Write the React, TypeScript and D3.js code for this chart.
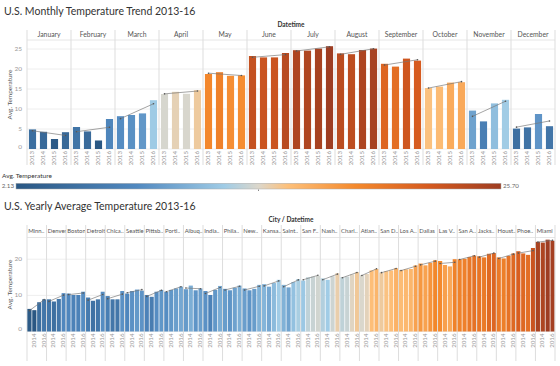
import React from 'react';
import * as d3 from 'd3';

// monthly averages, one array per year (Jan..Dec)
const MONTHS = ['January', 'February', 'March', 'April', 'May', 'June', 'July', 'August', 'September', 'October', 'November', 'December'];
const YEARS = ['2013', '2014', '2015', '2016'];
const M2013 = [4.9, 5.5, 8.2, 13.75, 18.75, 23.25, 24.7, 23.9, 21.3, 15.25, 9.6, 5.1];
const M2014 = [4.3, 4.4, 8.5, 14.3, 19.2, 22.9, 24.6, 23.7, 20.6, 15.6, 6.9, 5.4];
const M2015 = [2.5, 2.13, 8.9, 13.8, 18.3, 22.9, 25.1, 24.75, 22.6, 16.6, 11.4, 8.75];
const M2016 = [4.2, 7.5, 12.2, 14.7, 18.4, 24.0, 25.7, 25.1, 22.1, 16.7, 12.3, 5.7];

// yearly averages by city
const CITIES = ['Minn..', 'Denver', 'Boston', 'Detroit', 'Chica..', 'Seattle', 'Pittsb..', 'Portl..', 'Albuq..', 'India..', 'Phila..', 'New..', 'Kansa..', 'Saint..', 'San F..', 'Nash..', 'Charl..', 'Atlan..', 'San D..', 'Los A..', 'Dallas', 'Las V..', 'San A..', 'Jacks..', 'Houst..', 'Phoe..', 'Miami'];
const C2013 = [6.25, 8.9, 10.5, 9.4, 9.8, 10.5, 10.1, 11.0, 11.7, 11.2, 11.8, 11.9, 13.1, 12.9, 14.1, 14.7, 15.0, 15.6, 16.3, 17.0, 18.8, 19.5, 20.0, 20.8, 20.5, 22.2, 24.8];
const C2014 = [5.9, 8.3, 10.1, 8.5, 8.9, 11.2, 9.6, 11.5, 12.7, 10.1, 11.4, 11.4, 12.4, 12.2, 15.0, 14.3, 15.2, 15.9, 16.7, 17.2, 18.3, 18.4, 20.1, 20.5, 20.2, 21.6, 24.6];
const C2015 = [8.1, 9.0, 10.1, 8.9, 8.9, 11.6, 11.0, 11.9, 11.4, 11.5, 12.1, 11.8, 13.4, 13.7, 15.2, 15.3, 15.8, 16.9, 16.9, 17.3, 19.0, 18.0, 20.6, 21.5, 20.9, 21.2, 25.4];
const C2016 = [8.9, 10.6, 11.0, 11.0, 11.2, 11.3, 11.5, 12.4, 11.9, 12.6, 12.7, 12.9, 14.3, 14.5, 15.4, 16.1, 16.4, 17.3, 17.5, 18.3, 19.7, 20.0, 21.0, 21.7, 21.6, 23.1, 25.1];

const TOP_TICKS = [0, 5, 10, 15, 20, 25];
const BOTTOM_TICKS = [0, 10, 20];

// orange-blue diverging, blue = cold
const STOPS = [0, 0.25, 0.43, 0.5, 0.56, 0.7, 0.85, 1];
const STOP_COLORS = ['#2a5783', '#5189c0', '#a0cce6', '#dcd7cb', '#fdc07a', '#f4892c', '#d55a1f', '#9e3d22'];

const FONT = 'Lato, "Open Sans", sans-serif';
const LEFT = 27;
const RIGHT = 555;

function colorScale(min: number, max: number) {
  return d3.scaleLinear<string>()
    .domain(STOPS.map(t => min + t * (max - min)))
    .range(STOP_COLORS)
    .interpolate(d3.interpolateRgb);
}

// least squares trend over the 4 years of a pane
function trend(vals: number[]) {
  const n = vals.length;
  const xs = vals.map((_, i) => i);
  const mx = d3.mean(xs) as number;
  const my = d3.mean(vals) as number;
  let num = 0, den = 0;
  xs.forEach((x, i) => { num += (x - mx) * (vals[i] - my); den += (x - mx) * (x - mx); });
  const b = num / den;
  const a = my - b * mx;
  return [a, a + b * (n - 1)];
}

type PanelProps = {
  id: string;
  groups: string[];
  series: number[][]; // [year][group]
  y0: number; yMax: number; domainMax: number;
  headerTop: number; bottom: number;
  ticks: number[];
  headerAlign: 'middle' | 'start';
  yearLabels: string[];
  title: string; subTitle: string; titleY: number; subTitleY: number;
  barPad: number;
};

function Panel(p: PanelProps) {
  const gx = d3.scaleBand().domain(p.groups).range([LEFT, RIGHT]);
  const ix = d3.scaleBand().domain(YEARS).range([0, gx.bandwidth()]).paddingInner(p.barPad).paddingOuter(p.barPad / 2);
  const y = d3.scaleLinear().domain([0, p.domainMax]).range([p.y0, p.yMax]);
  const all = p.series.flat();
  const color = colorScale(d3.min(all) as number, d3.max(all) as number);
  const headerBottom = p.yMax;
  return (
    <g fontFamily={FONT}>
      <text x={4} y={p.titleY} fontSize={10.5} fill="#333">{p.title}</text>
      <text x={(LEFT + RIGHT) / 2} y={p.subTitleY} fontSize={6.5} fontWeight="bold" fill="#333" textAnchor="middle">{p.subTitle}</text>
      {p.ticks.map(t => (
        <g key={'t' + t}>
          <line x1={LEFT} x2={RIGHT} y1={y(t)} y2={y(t)} stroke="#eeeeee" strokeWidth={1} />
          <text x={22} y={t === 0 ? y(t) - 2 : y(t)} fontSize={6.5} fill="#999" textAnchor="end" dominantBaseline="middle">{t}</text>
        </g>
      ))}
      <line x1={LEFT} x2={RIGHT} y1={headerBottom} y2={headerBottom} stroke="#e6e6e6" />
      <text transform={`translate(10,${(p.y0 + headerBottom) / 2}) rotate(-90)`} fontSize={6.5} fill="#555" textAnchor="middle" dominantBaseline="middle">Avg. Temperature</text>
      {p.groups.map((g, gi) => {
        const x0 = gx(g) as number;
        const vals = p.series.map(s => s[gi]);
        const [ta, tb] = trend(vals);
        const cx0 = x0 + (ix(YEARS[0]) as number) + ix.bandwidth() / 2;
        const cx3 = x0 + (ix(YEARS[3]) as number) + ix.bandwidth() / 2;
        const clipId = `${p.id}-h${gi}`;
        return (
          <g key={g}>
            <clipPath id={clipId}><rect x={x0} y={p.headerTop} width={gx.bandwidth()} height={headerBottom - p.headerTop} /></clipPath>
            <line x1={x0} x2={x0} y1={p.headerTop} y2={p.bottom} stroke="#dddddd" />
            <text clipPath={`url(#${clipId})`} x={p.headerAlign === 'middle' ? x0 + gx.bandwidth() / 2 : x0 + 1.2} y={(p.headerTop + headerBottom) / 2 + 0.5}
              fontSize={p.headerAlign === 'middle' ? 6.8 : 5.9} fill="#555" textAnchor={p.headerAlign} dominantBaseline="middle">{g}</text>
            {vals.map((v, i) => (
              <rect key={i} x={x0 + (ix(YEARS[i]) as number)} width={ix.bandwidth()} y={y(v)} height={p.y0 - y(v)} fill={color(v)} />
            ))}
            {YEARS.map(yr => p.yearLabels.includes(yr) ? (
              <text key={'l' + yr} transform={`translate(${x0 + (ix(yr) as number) + ix.bandwidth() / 2},${p.y0 + 2}) rotate(-90)`}
                fontSize={6.2} fill="#999" textAnchor="end" dominantBaseline="middle">{yr}</text>
            ) : null)}
            <line x1={cx0} x2={cx3} y1={y(ta)} y2={y(tb)} stroke="#777" strokeOpacity={0.75} strokeWidth={0.9} />
            <circle cx={cx0} cy={y(ta)} r={0.8} fill="#555" />
            <circle cx={cx3} cy={y(tb)} r={0.8} fill="#555" />
          </g>
        );
      })}
      <line x1={RIGHT} x2={RIGHT} y1={p.headerTop} y2={p.bottom} stroke="#dddddd" />
    </g>
  );
}

function Legend() {
  const lx0 = 16, lx1 = 501;
  return (
    <g fontFamily={FONT}>
      <defs>
        <linearGradient id="tempGrad" x1="0" x2="1" y1="0" y2="0">
          {STOPS.map((s, i) => <stop key={i} offset={s} stopColor={STOP_COLORS[i]} />)}
        </linearGradient>
      </defs>
      <text x={2} y={176} fontSize={6.5} fill="#333" dominantBaseline="middle">Avg. Temperature</text>
      <text x={14} y={186.5} fontSize={6.2} fill="#666" textAnchor="end" dominantBaseline="middle">{d3.format('.2f')(d3.min(M2015) as number)}</text>
      <rect x={lx0} y={183.3} width={lx1 - lx0} height={5.7} fill="url(#tempGrad)" stroke="#aaa" strokeWidth={0.5} />
      <text x={503} y={186.5} fontSize={6.2} fill="#666" dominantBaseline="middle">{d3.format('.2f')(d3.max(M2016) as number)}</text>
      <rect x={(lx0 + lx1) / 2 - 0.5} y={189.5} width={1} height={1.5} fill="#888" />
    </g>
  );
}

export default function App() {
  return (
    <svg width={560} height={366} style={{ position: 'absolute', left: 0, top: 0, background: '#fff' }}>
      <Panel id="m" groups={MONTHS} series={[M2013, M2014, M2015, M2016]}
        y0={149} yMax={40} domainMax={27.25} headerTop={30} bottom={165}
        ticks={TOP_TICKS} headerAlign="middle" yearLabels={YEARS}
        title="U.S. Monthly Temperature Trend 2013-16" subTitle="Datetime" titleY={15} subTitleY={26.5}
        barPad={0.35} />
      <Legend />
      <Panel id="c" groups={CITIES} series={[C2013, C2014, C2015, C2016]}
        y0={331.5} yMax={237.5} domainMax={26} headerTop={225} bottom={361}
        ticks={BOTTOM_TICKS} headerAlign="start" yearLabels={['2014', '2016']}
        title="U.S. Yearly Average Temperature 2013-16" subTitle="City / Datetime" titleY={210} subTitleY={221.5}
        barPad={0.15} />
    </svg>
  );
}
